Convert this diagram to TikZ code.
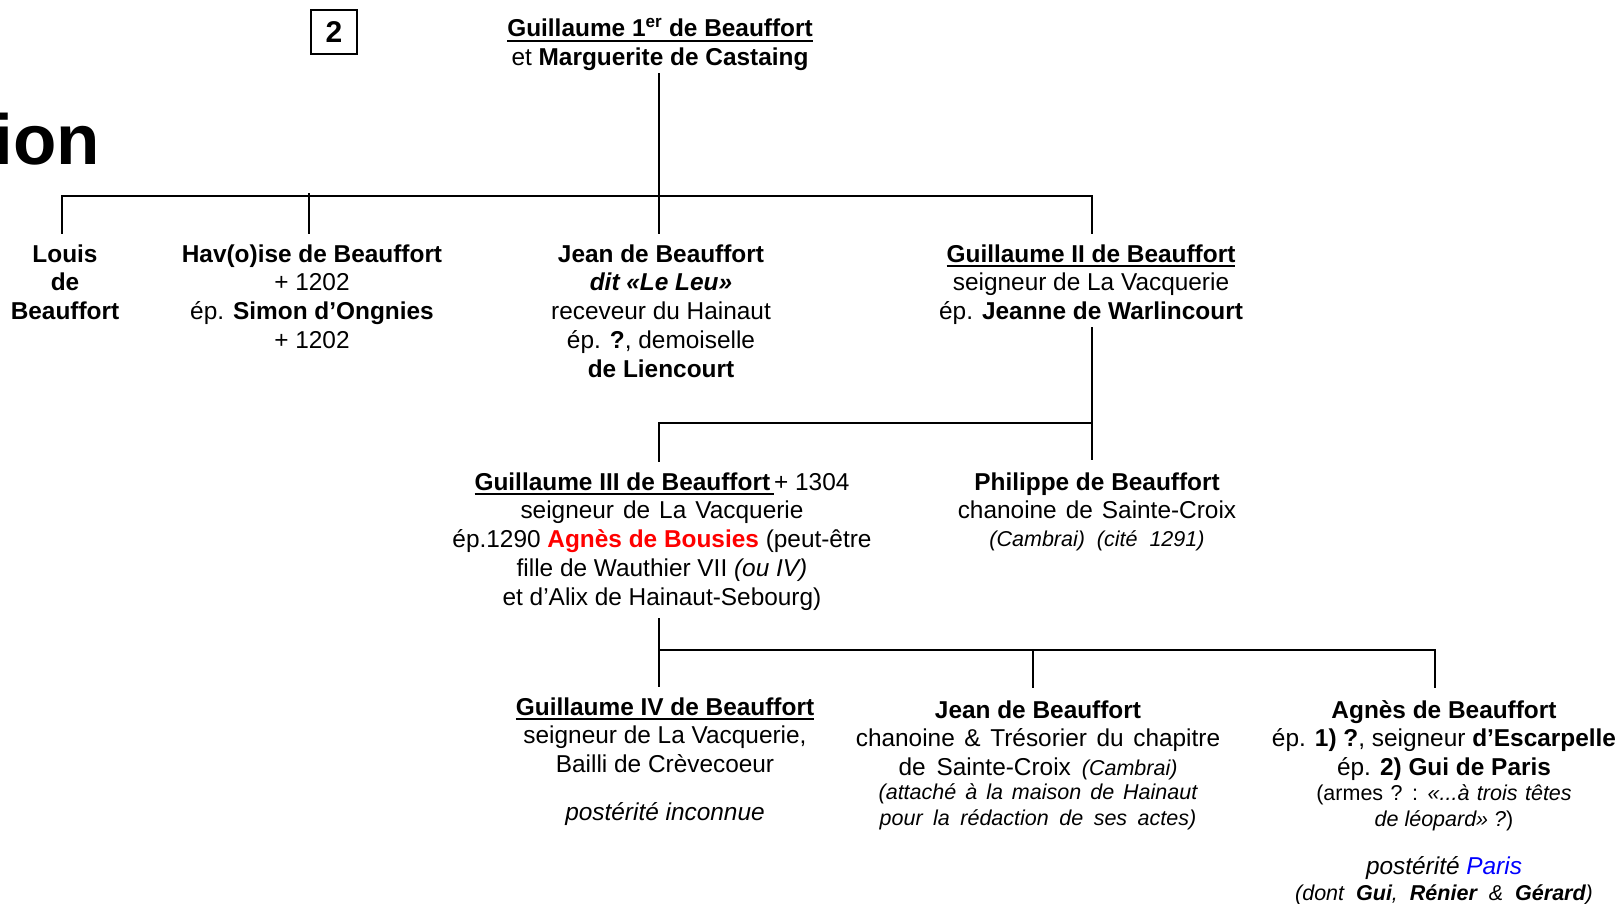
\documentclass[tikz,border=0pt]{standalone}
\usepackage{fontspec}
\setmainfont{Liberation Sans}
\usepackage{xcolor}
\newcommand\stack[1]{\vtop{\lineskiplimit=-30pt\halign{\hfil##\hfil\cr#1\crcr}}}
\newcommand\ulx[1]{\vtop{\hbox{#1}\kern2.5pt\hrule height 1.8pt}}
\newcommand\sm{\fontsize{21.5}{26}\selectfont}
\tikzset{
  person/.style={inner sep=0pt, anchor=base, font=\fontsize{24.4}{28.8}\selectfont},
  link/.style={line width=2pt, line cap=rect},
}
\begin{document}
\begin{tikzpicture}[x=1pt,y=-1pt]
\useasboundingbox (0,0) rectangle (1618,904);
% title fragment and number box
\node[inner sep=0pt, anchor=base east, font=\fontsize{71}{78}\selectfont\bfseries] (ion) at (100,165) {ion};
\node[draw, line width=2.2pt, minimum width=46pt, minimum height=44pt, inner sep=0pt, font=\fontsize{30}{30}\selectfont\bfseries] (num) at (334,32) {2};
% persons
\node[person] (g1) at (660,37) {\stack{\ulx{\textbf{Guillaume 1\textsuperscript{er} de Beauffort}}\cr et \textbf{Marguerite de Castaing}}};
\node[person] (louis) at (65,262) {\stack{\textbf{Louis}\cr\textbf{de}\cr\textbf{Beauffort}}};
\node[person] (hav) at (312,262) {\stack{\textbf{Hav(o)ise de Beauffort}\cr + 1202\cr ép. \textbf{Simon d’Ongnies}\cr + 1202}};
\node[person] (jean1) at (661,262) {\stack{\textbf{Jean de Beauffort}\cr\textbf{\textit{dit «Le Leu»}}\cr receveur du Hainaut\cr ép. \textbf{?}, demoiselle\cr\textbf{de Liencourt}}};
\node[person] (g2) at (1091,262) {\stack{\ulx{\textbf{Guillaume II de Beauffort}}\cr seigneur de La Vacquerie\cr ép. \textbf{Jeanne de Warlincourt}}};
\node[person] (g3) at (662,490) {\stack{\ulx{\textbf{Guillaume III de Beauffort}\hskip4pt}+ 1304\cr {\spaceskip=9pt seigneur de La Vacquerie}\cr ép.1290 {\color{red}\textbf{Agnès de Bousies}} (peut-être\cr fille de Wauthier VII \textit{(ou IV)}\cr et d’Alix de Hainaut-Sebourg)}};
\node[person] (phil) at (1097,490) {\stack{\textbf{Philippe de Beauffort}\cr {\spaceskip=9pt chanoine de Sainte-Croix}\cr\noalign{\kern-1.5pt}{\sm\itshape (Cambrai)\ \ (cité\ \ 1291)}}};
\node[person] (g4) at (665,715) {\stack{\ulx{\textbf{Guillaume IV de Beauffort}}\cr seigneur de La Vacquerie,\cr Bailli de Crèvecoeur\cr\noalign{\kern19pt}\textit{postérité inconnue}}};
\node[person] (jean3) at (1038,718) {\stack{\textbf{Jean de Beauffort}\cr {\spaceskip=9.6pt chanoine \& Trésorier du chapitre}\cr {\spaceskip=11pt de Sainte-Croix {\sm\itshape (Cambrai)}}\cr\noalign{\kern-4.5pt}{\sm\itshape\spaceskip=9pt (attaché à la maison de Hainaut}\cr\noalign{\kern-3pt}{\sm\itshape\spaceskip=10.5pt pour la rédaction de ses actes)}}};
\node[person] (agnes) at (1444,718) {\stack{\textbf{Agnès de Beauffort}\cr ép. \textbf{1) ?}, seigneur \textbf{d’Escarpelle}\cr ép. \textbf{2) Gui de Paris}\cr\noalign{\kern-3.8pt}{\sm\spaceskip=7.5pt (armes ? : \textit{«...à trois têtes}}\cr\noalign{\kern-2.8pt}{\sm\textit{de léopard» ?})}\cr\noalign{\kern19.2pt}\textit{postérité {\color{blue}Paris}}\cr\noalign{\kern-2.8pt}{\sm\itshape\spaceskip=12pt (dont \textbf{Gui}, \textbf{Rénier} \& \textbf{Gérard})}}};
% connector points
\coordinate (t0) at (659,74);   \coordinate (t1) at (659,233);
\coordinate (bl) at (62,196);   \coordinate (br) at (1092,196);
\coordinate (lo) at (62,233);
\coordinate (hv0) at (309,194); \coordinate (hv1) at (309,233);
\coordinate (g2a) at (1092,233);
\coordinate (g2b) at (1092,328); \coordinate (g2c) at (1092,459);
\coordinate (b2l) at (659,423);  \coordinate (b2r) at (1092,423);
\coordinate (g3a) at (659,461);
\coordinate (g3b) at (659,619);  \coordinate (g3c) at (659,686);
\coordinate (b3l) at (659,650);  \coordinate (b3r) at (1435,650);
\coordinate (j3a) at (1033,650); \coordinate (j3b) at (1033,687);
\coordinate (aga) at (1435,687);
% connectors
\draw[link] (t0) -- (t1);
\draw[link] (bl) -- (br);
\draw[link] (bl) -- (lo);
\draw[link] (hv0) -- (hv1);
\draw[link] (br) -- (g2a);
\draw[link] (g2b) -- (g2c);
\draw[link] (b2l) -- (b2r);
\draw[link] (b2l) -- (g3a);
\draw[link] (g3b) -- (g3c);
\draw[link] (b3l) -- (b3r);
\draw[link] (j3a) -- (j3b);
\draw[link] (b3r) -- (aga);
\end{tikzpicture}
\end{document}
